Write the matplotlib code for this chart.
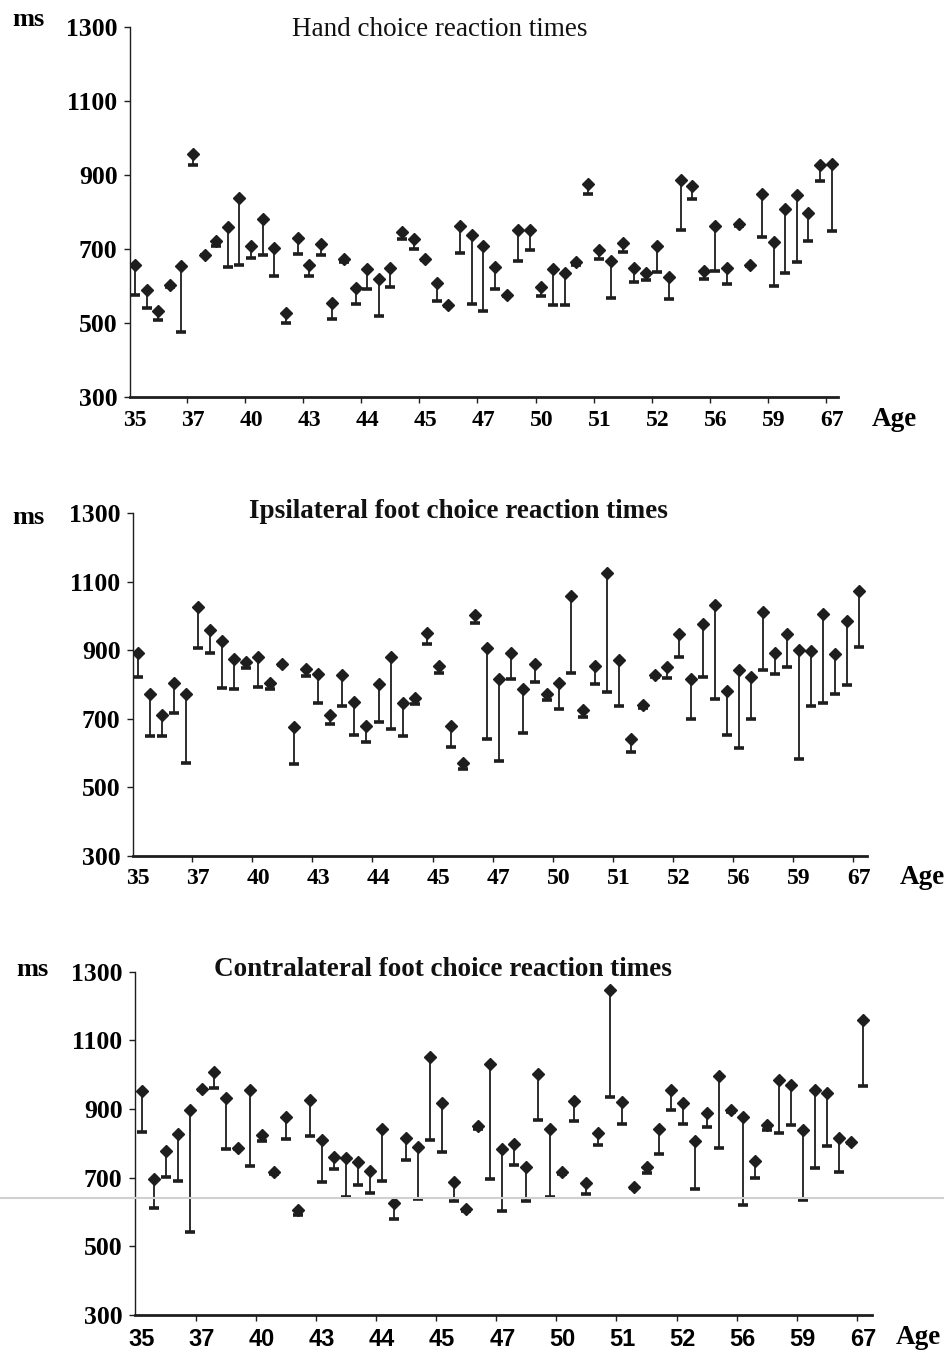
import numpy as np
import matplotlib.pyplot as plt
from matplotlib.lines import Line2D

# age labels shown under every 5th subject
age_labels = ["35", "37", "40", "43", "44", "45", "47", "50", "51", "52", "56", "59", "67"]

# hand choice reaction times (ms): top = diamond, low = bar
hand_high = [656, 588, 532, 602, 654, 958, 685, 721, 760, 837, 707, 781, 703, 528, 730, 656,
             715, 554, 674, 595, 646, 620, 649, 745, 726, 674, 609, 550, 763, 737, 707, 652,
             575, 752, 752, 598, 646, 635, 665, 875, 697, 668, 717, 650, 635, 709, 624, 886,
             871, 640, 761, 648, 769, 657, 849, 720, 809, 846, 798, 927, 930]
hand_low = [575, 541, 508, 598, 476, 927, 683, 708, 651, 657, 676, 683, 626, 500, 686, 626,
            683, 512, 665, 552, 592, 519, 597, 728, 699, 670, 559, 547, 690, 551, 533, 592,
            572, 668, 698, 573, 548, 548, 658, 849, 673, 568, 692, 611, 615, 637, 564, 751,
            836, 619, 641, 605, 762, 654, 733, 601, 635, 664, 722, 885, 748]

# ipsilateral foot choice reaction times (ms)
ipsi_high = [892, 773, 710, 803, 771, 1025, 958, 926, 874, 864, 879, 803, 859, 676, 846, 831,
             709, 828, 748, 678, 801, 881, 744, 761, 949, 853, 679, 569, 1001, 906, 814, 890,
             787, 858, 771, 803, 1058, 725, 853, 1124, 871, 640, 739, 827, 851, 947, 816, 975,
             1030, 780, 841, 820, 1011, 891, 948, 901, 897, 1004, 889, 985, 1071]
ipsi_low = [822, 649, 649, 717, 571, 905, 892, 789, 785, 848, 793, 785, 856, 567, 825, 744,
            683, 738, 652, 632, 691, 668, 648, 742, 918, 834, 617, 552, 980, 641, 576, 815,
            657, 808, 755, 729, 832, 704, 800, 776, 738, 601, 730, 820, 817, 881, 698, 820,
            757, 651, 615, 698, 841, 829, 849, 582, 738, 745, 773, 798, 910]

# contralateral foot choice reaction times (ms)
contra_high = [952, 696, 777, 828, 896, 959, 1007, 932, 785, 955, 824, 715, 876, 605, 925, 809,
               761, 756, 745, 718, 842, 625, 814, 789, 1052, 918, 687, 609, 849, 1030, 783, 798,
               730, 1002, 843, 715, 923, 684, 831, 1246, 919, 674, 732, 841, 955, 916, 808, 887,
               995, 897, 876, 749, 853, 984, 969, 838, 956, 945, 815, 805, 1158]
contra_low = [834, 611, 702, 689, 543, 955, 960, 783, 782, 734, 807, 712, 812, 591, 822, 687,
              726, 644, 680, 654, 690, 579, 751, 639, 811, 775, 631, 603, 842, 695, 604, 736,
              631, 868, 645, 712, 864, 653, 795, 936, 855, 671, 713, 769, 897, 856, 666, 846,
              785, 890, 619, 698, 839, 831, 854, 635, 727, 791, 716, 802, 967]

serif = "Liberation Serif"
sans = "Liberation Sans"
ink = "#1e1e1e"
W, H = 944, 1355

panels = [
    # title, high, low, axes rect, xlim, title weight, xtick font, title xy, ms xy, Age xy
    ("Hand choice reaction times", hand_high, hand_low,
     [0.1377, 0.707, 0.750, 0.273], (-0.43, 60.55), "normal", serif,
     (440, 30), (28, 20), (894, 420)),
    ("Ipsilateral foot choice reaction times", ipsi_high, ipsi_low,
     [0.1409, 0.3686, 0.7775, 0.2528], (-0.44, 60.67), "bold", serif,
     (458, 511), (28, 518), (922, 878)),
    ("Contralateral foot choice reaction times", contra_high, contra_low,
     [0.1430, 0.0295, 0.7807, 0.2535], (-0.56, 60.76), "bold", sans,
     (443, 970), (32, 970), (918, 1338)),
]


def px(x, y):
    return x / W, 1 - y / H


fig = plt.figure(figsize=(W / 100, H / 100), dpi=100)

for title, high, low, rect, xl, tw, xfont, tpos, mpos, apos in panels:
    ax = fig.add_axes(rect)
    x = np.arange(len(high))
    ax.vlines(x, low, high, color=ink, lw=1.3)
    ax.plot(x, low, ls="none", marker="_", ms=7, mew=2.6, color=ink)
    ax.plot(x, high, ls="none", marker="D", ms=6, color=ink, mec=ink)

    ax.set_xlim(*xl)
    ax.set_ylim(300, 1300)
    ax.set_yticks(np.arange(300, 1301, 200))
    ax.set_yticklabels([str(v) for v in range(300, 1301, 200)],
                       fontfamily=serif, fontweight="bold", fontsize=18.5)
    ax.set_xticks(np.arange(0, 61, 5))
    ax.set_xticklabels(age_labels, fontfamily=xfont, fontweight="bold", fontsize=17)
    ax.set_xticks(np.arange(4.5, 60, 5), minor=True)
    ax.tick_params(axis="x", which="major", length=0, pad=9)
    ax.tick_params(axis="x", which="minor", length=4, width=1, direction="out", color=ink)
    ax.tick_params(axis="y", length=4, width=1, direction="out", pad=5, color=ink)

    for s in ("top", "right"):
        ax.spines[s].set_visible(False)
    ax.spines["left"].set_linewidth(1.0)
    ax.spines["left"].set_color(ink)
    ax.spines["bottom"].set_linewidth(2.0)
    ax.spines["bottom"].set_color(ink)

    fig.text(*px(*tpos), title, fontfamily=serif, fontweight=tw, fontsize=19.5,
             ha="center", va="center", color="#111111")
    fig.text(*px(*mpos), "ms", fontfamily=serif, fontweight="bold", fontsize=19,
             ha="center", va="center")
    fig.text(*px(*apos), "Age", fontfamily=serif, fontweight="bold", fontsize=19.5,
             ha="center", va="center")

# faint scanner line across the lower panel
fig.add_artist(Line2D([0, 1], [1 - 1198 / H] * 2, transform=fig.transFigure,
                      color="#d0d0d0", lw=1.5))

fig.savefig("out.png", dpi=100)
